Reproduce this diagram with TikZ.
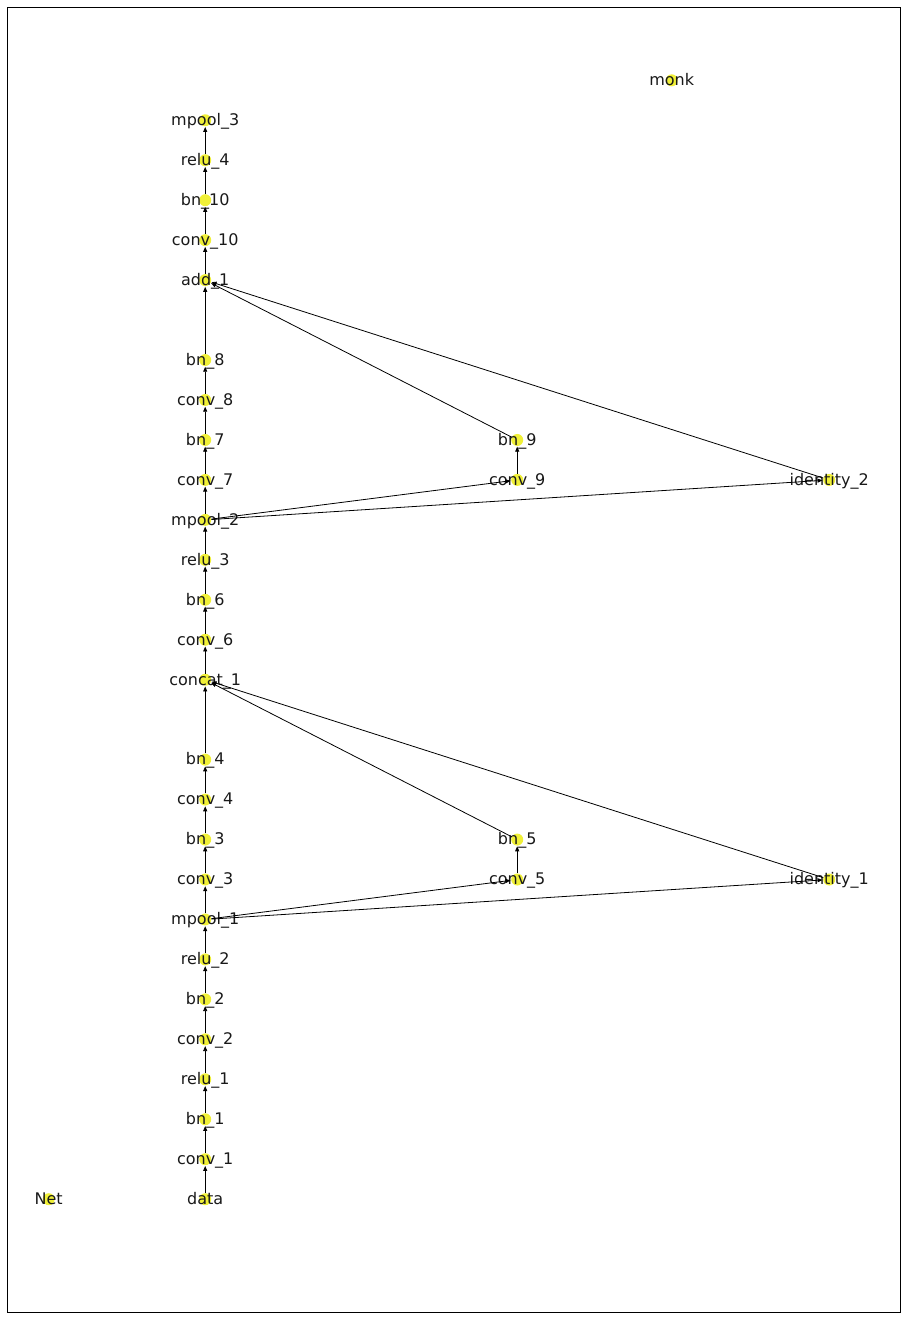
\documentclass[tikz,border=0pt]{standalone}
\usepackage{fontspec}
\setmainfont{DejaVu Sans}
\usetikzlibrary{arrows.meta}
\definecolor{dotyellow}{RGB}{240,240,55}
\tikzset{
  dot/.style={circle, fill=dotyellow, draw=none, inner sep=0pt, minimum size=12pt},
  lbl/.style={font=\fontsize{16}{19}\selectfont, text height=14pt, text depth=3.4pt, inner sep=0pt, text=black!90},
  edge/.style={draw=black, line width=0.8pt, -{Triangle[length=5pt,width=4pt]}, shorten >=0.5pt},
}
\newcommand\gnode[3]{\node[dot] (#1) at (#2) {}; \node[lbl] (#1-t) at (#1.center) {#3};}
\begin{document}
\begin{tikzpicture}[x=1pt,y=-1pt]
\useasboundingbox (0,0) rectangle (907,1319);
\draw[line width=0.9pt] (7.5,7.5) rectangle (900.5,1312);

\begin{scope}[shift={(0.7,1.2)}]
% main column
\gnode{data}{204.5,1198}{data}
\gnode{conv1}{204.5,1158.04}{conv\_1}
\gnode{bn1}{204.5,1118.08}{bn\_1}
\gnode{relu1}{204.5,1078.12}{relu\_1}
\gnode{conv2}{204.5,1038.16}{conv\_2}
\gnode{bn2}{204.5,998.2}{bn\_2}
\gnode{relu2}{204.5,958.24}{relu\_2}
\gnode{mpool1}{204.5,918.28}{mpool\_1}
\gnode{conv3}{204.5,878.32}{conv\_3}
\gnode{bn3}{204.5,838.36}{bn\_3}
\gnode{conv4}{204.5,798.4}{conv\_4}
\gnode{bn4}{204.5,758.44}{bn\_4}
\gnode{concat1}{204.5,678.52}{concat\_1}
\gnode{conv6}{204.5,638.56}{conv\_6}
\gnode{bn6}{204.5,598.6}{bn\_6}
\gnode{relu3}{204.5,558.64}{relu\_3}
\gnode{mpool2}{204.5,518.68}{mpool\_2}
\gnode{conv7}{204.5,478.72}{conv\_7}
\gnode{bn7}{204.5,438.76}{bn\_7}
\gnode{conv8}{204.5,398.8}{conv\_8}
\gnode{bn8}{204.5,358.84}{bn\_8}
\gnode{add1}{204.5,278.92}{add\_1}
\gnode{conv10}{204.5,238.96}{conv\_10}
\gnode{bn10}{204.5,199}{bn\_10}
\gnode{relu4}{204.5,159.04}{relu\_4}
\gnode{mpool3}{204.5,119.08}{mpool\_3}

% side branches
\gnode{conv5}{516.5,878.32}{conv\_5}
\gnode{bn5}{516.5,838.36}{bn\_5}
\gnode{identity1}{828.5,878.32}{identity\_1}
\gnode{conv9}{516.5,478.72}{conv\_9}
\gnode{bn9}{516.5,438.76}{bn\_9}
\gnode{identity2}{828.5,478.72}{identity\_2}

% isolated nodes
\gnode{net}{48,1198}{Net}
\gnode{monk}{671,79.12}{monk}
\end{scope}

% connectors
\foreach \a/\b in {data/conv1, conv1/bn1, bn1/relu1, relu1/conv2, conv2/bn2, bn2/relu2,
  relu2/mpool1, mpool1/conv3, conv3/bn3, bn3/conv4, conv4/bn4, bn4/concat1,
  mpool1/conv5, conv5/bn5, bn5/concat1, mpool1/identity1, identity1/concat1,
  concat1/conv6, conv6/bn6, bn6/relu3, relu3/mpool2, mpool2/conv7, conv7/bn7,
  bn7/conv8, conv8/bn8, bn8/add1, mpool2/conv9, conv9/bn9, bn9/add1,
  mpool2/identity2, identity2/add1, add1/conv10, conv10/bn10, bn10/relu4, relu4/mpool3}
  \draw[edge] (\a) -- (\b);
\end{tikzpicture}
\end{document}
